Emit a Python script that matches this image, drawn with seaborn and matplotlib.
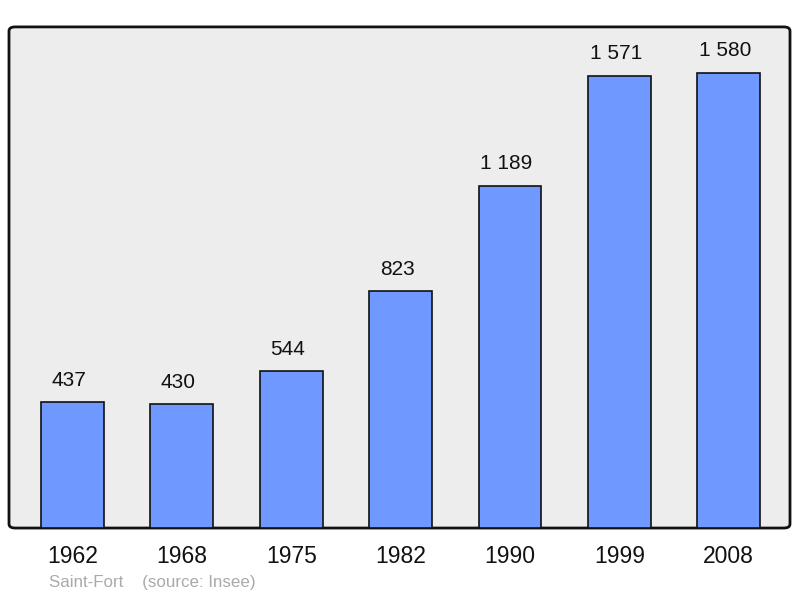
import matplotlib
matplotlib.use("Agg")
import matplotlib.pyplot as plt
from matplotlib.patches import FancyBboxPatch
import pandas as pd
import seaborn as sns

# population data (Insee)
years = ["1962", "1968", "1975", "1982", "1990", "1999", "2008"]
population = [437, 430, 544, 823, 1189, 1571, 1580]
value_labels = ["437", "430", "544", "823", "1 189", "1 571", "1 580"]

df = pd.DataFrame({"year": years, "population": population})

sns.set_theme(style="white")
plt.rcParams["font.family"] = ["Liberation Sans", "DejaVu Sans"]

fig = plt.figure(figsize=(8, 5.98), dpi=100)
ax = fig.add_axes([0.01125, 0.117, 0.97625, 0.838])
ax.set_facecolor("none")

# rounded frame behind the bars
frame = FancyBboxPatch((0, 0), 1, 1, boxstyle="round,pad=0,rounding_size=0.008",
                       transform=ax.transAxes, facecolor="#ededed",
                       edgecolor="#111111", linewidth=2, zorder=0, clip_on=False)
ax.add_patch(frame)

sns.barplot(data=df, x="year", y="population", color="#7099ff", saturation=1,
            width=0.575, edgecolor="#111111", linewidth=1.2, ax=ax, zorder=2)

for i, (v, lab) in enumerate(zip(population, value_labels)):
    ax.annotate(lab, (i, v), xytext=(-2.5, 9), textcoords="offset points",
                ha="center", va="bottom", fontsize=15, color="#111111")

ax.set_xlim(-0.58, 6.56)
ax.set_ylim(0, 1740)
for s in ax.spines.values():
    s.set_visible(False)
ax.set_yticks([])
ax.set_xlabel("")
ax.set_ylabel("")
ax.tick_params(axis="x", length=0, pad=12.5, labelsize=16.5, labelcolor="#111111")

fig.text(0.061, 0.013, "Saint-Fort    (source: Insee)", fontsize=12.2, color="#aaaaaa",
         ha="left", va="bottom")

fig.savefig("out.png", dpi=100)
